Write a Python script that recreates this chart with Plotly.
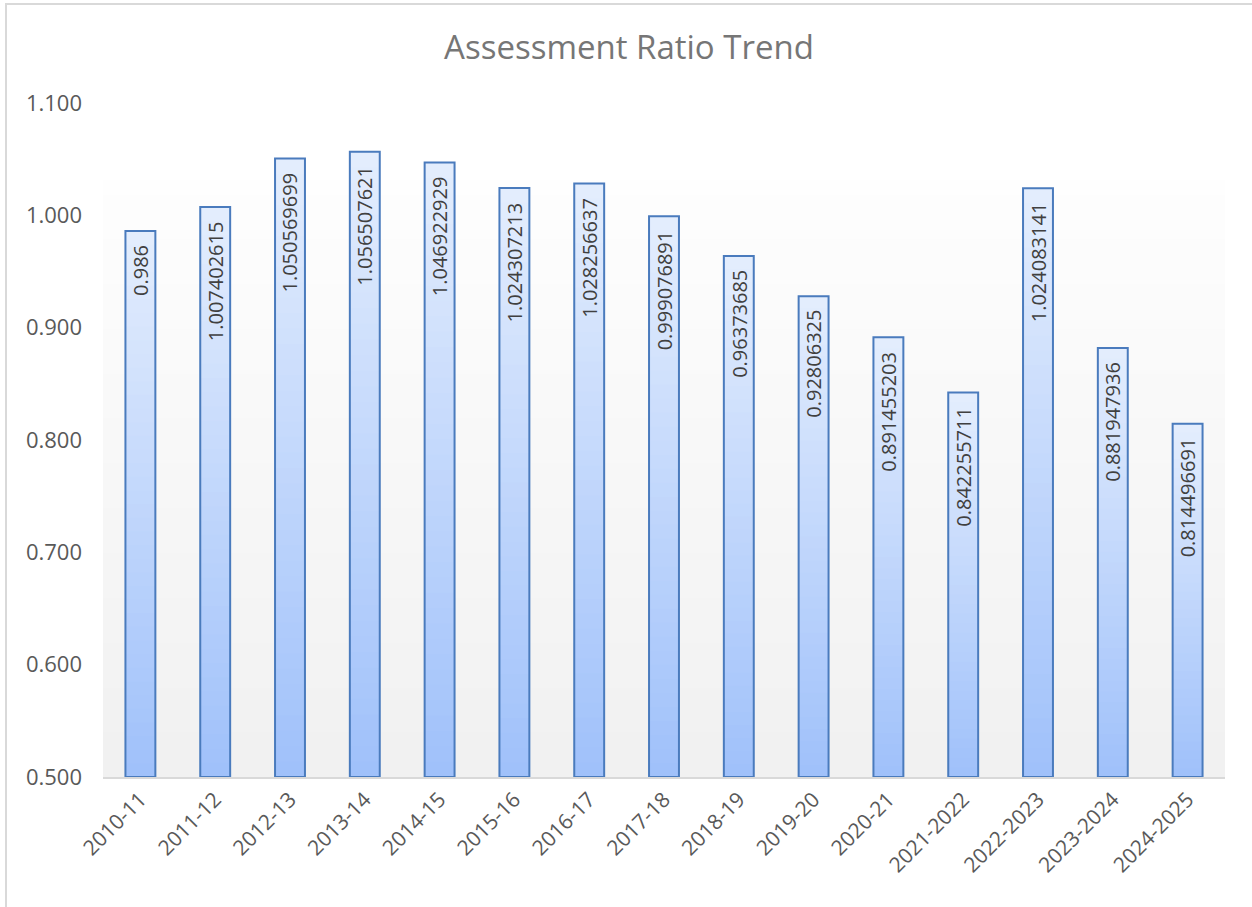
import plotly.graph_objects as go

categories = ["2010-11", "2011-12", "2012-13", "2013-14", "2014-15", "2015-16",
              "2016-17", "2017-18", "2018-19", "2019-20", "2020-21", "2021-2022",
              "2022-2023", "2023-2024", "2024-2025"]
ratios = [0.986, 1.007402615, 1.050569699, 1.056507621, 1.046922929, 1.024307213,
          1.028256637, 0.999076891, 0.96373685, 0.92806325, 0.891455203, 0.842255711,
          1.024083141, 0.881947936, 0.814496691]
y_ticks = [0.5, 0.6, 0.7, 0.8, 0.9, 1.0, 1.1]
y_tick_labels = ["0.500", "0.600", "0.700", "0.800", "0.900", "1.000", "1.100"]

AXIS_MIN = 0.5
AXIS_MAX = 1.1
BG_TOP = 1.0315

W, H = 1252, 907
ML, MR, MT, MB = 103, 27, 103, 130
PW, PH = W - ML - MR, H - MT - MB

FONT = "Open Sans"


def lerp(c1, c2, t):
    return "rgb(%d,%d,%d)" % tuple(round(a + (b - a) * t) for a, b in zip(c1, c2))


TOP_C = (227, 237, 253)
BOT_C = (160, 193, 250)

fig = go.Figure()

# gradient bars: overlapping slices, each from its start up to the bar top
N = 40
for k in range(N):
    t = k / (N - 1)
    color = lerp(BOT_C, TOP_C, t)
    bases = [AXIS_MIN + (v - AXIS_MIN) * k / N for v in ratios]
    heights = [v - b for v, b in zip(ratios, bases)]
    fig.add_trace(go.Bar(x=categories, y=heights, base=bases,
                         marker=dict(color=color, line=dict(width=0)),
                         hoverinfo="skip", showlegend=False))

# outline bar
fig.add_trace(go.Bar(x=categories, y=[v - AXIS_MIN for v in ratios], base=AXIS_MIN,
                     marker=dict(color="rgba(0,0,0,0)", line=dict(color="#4a7bbd", width=2)),
                     customdata=ratios, hovertemplate="%{x}: %{customdata}<extra></extra>",
                     showlegend=False))

# value labels
for c, v in zip(categories, ratios):
    fig.add_annotation(x=c, y=v, text=str(v), textangle=-90, showarrow=False,
                       yanchor="top", xanchor="center", yshift=-12,
                       font=dict(family=FONT, size=20, color="#404040"))

# plot area background gradient
shapes = []
NB = 40
for k in range(NB):
    y0 = AXIS_MIN + (BG_TOP - AXIS_MIN) * k / NB
    g = 241 + (254 - 241) * k / (NB - 1)
    col = "rgb(%d,%d,%d)" % (g, g, g)
    shapes.append(dict(type="rect", xref="x domain", yref="y", x0=0, x1=1, y0=y0, y1=BG_TOP,
                       fillcolor=col, line=dict(width=0), layer="below"))
# chart border
shapes.append(dict(type="rect", xref="paper", yref="paper",
                   x0=(6 - ML) / PW, x1=(1262 - ML) / PW,
                   y0=(H - MB - 915) / PH, y1=(H - MB - 4) / PH,
                   line=dict(color="#d9d9d9", width=2), fillcolor="rgba(0,0,0,0)", layer="below"))

fig.update_layout(
    width=W, height=H,
    margin=dict(l=ML, r=MR, t=MT, b=MB),
    paper_bgcolor="white", plot_bgcolor="white",
    barmode="overlay", bargap=0.6,
    title=dict(text="Assessment Ratio Trend", x=(629 - ML) / PW, xref="paper", xanchor="center",
               y=1 - 47 / H, yanchor="middle",
               font=dict(family=FONT, size=33, color="#767676")),
    shapes=shapes,
    showlegend=False,
)
fig.update_xaxes(type="category", showgrid=False, showline=True, linecolor="#d9d9d9", linewidth=2,
                 tickangle=-45, ticks="", tickfont=dict(family=FONT, size=21, color="#595959"))
fig.update_yaxes(range=[AXIS_MIN, AXIS_MAX], tickvals=y_ticks, ticktext=y_tick_labels,
                 showgrid=False, zeroline=False, showline=False, ticks="",
                 ticklabelstandoff=20,
                 tickfont=dict(family=FONT, size=22, color="#595959"))

fig.write_html("out.html", config={"displayModeBar": False},
               post_script="document.body.style.margin='0';document.body.style.overflow='hidden';")
